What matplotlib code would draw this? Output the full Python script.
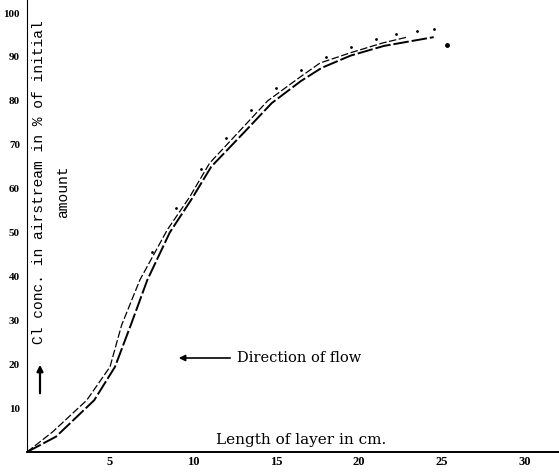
import numpy as np
import matplotlib
matplotlib.use("Agg")
import matplotlib.pyplot as plt

# Cl-Konzentration im Luftstrom entlang der Schicht
x_upper = [0, 0.31, 0.72, 1.0, 1.14, 1.36, 1.69, 1.96, 2.2, 2.57, 2.9, 3.29, 3.53, 3.89, 4.29, 4.58]
y_upper = [0, 4.6, 11.8, 19.4, 28.9, 39.2, 50.6, 58.1, 65.8, 73.3, 80.0, 85.4, 88.6, 90.9, 93.2, 94.5]

x_lower = [0, 0.35, 0.81, 1.06, 1.25, 1.45, 1.72, 1.98, 2.22, 2.6, 2.95, 3.3, 3.55, 3.9, 4.3, 4.6, 4.9]
y_lower = [0, 3.5, 11.8, 19.4, 28.9, 39.2, 50.0, 57.5, 65.0, 72.5, 79.5, 84.5, 87.5, 90.3, 92.5, 93.5, 94.5]

# verstreute Punkte über der Kurve
x_dots = [1.5, 1.8, 2.1, 2.4, 2.7, 3.0, 3.3, 3.6, 3.9, 4.2, 4.45, 4.7, 4.9]
y_dots = [45.5, 55.5, 64.5, 71.5, 78.0, 83.0, 87.0, 90.0, 92.2, 94.0, 95.2, 96.0, 96.4]

x_end = [5.06]
y_end = [92.7]

x_ticks = [1, 2, 3, 4, 5, 6]
x_ticklabels = ["5", "10", "15", "20", "25", "30"]
y_ticks = [10, 20, 30, 40, 50, 60, 70, 80, 90, 100]
y_ticklabels = ["10", "20", "30", "40", "50", "60", "70", "80", "90", "100"]

fig = plt.figure(figsize=(5.59, 4.72), dpi=100)
ax = fig.add_axes([27/559, 20/472, 532/559, 452/472])
ax.set_xlim(0, 532/83)
ax.set_ylim(0, 452/4.39)

ax.plot(x_upper, y_upper, color="black", lw=0.9, ls=(0, (6, 2)))
ax.plot(x_lower, y_lower, color="black", lw=1.4, ls=(0, (8, 1.5)))
ax.plot(x_dots, y_dots, color="black", lw=0, marker=".", ms=2)
ax.plot(x_end, y_end, color="black", lw=0, marker="o", ms=2.5)

for s in ["top", "right"]:
    ax.spines[s].set_visible(False)
ax.spines["left"].set_linestyle((0, (4, 1, 1, 1)))
ax.spines["left"].set_linewidth(0.8)
ax.spines["bottom"].set_linewidth(1.4)

ax.set_xticks(x_ticks)
ax.set_xticklabels(x_ticklabels, fontfamily="Liberation Serif",
                   fontweight="bold", fontsize=9)
ax.set_yticks(y_ticks)
ax.set_yticklabels(y_ticklabels, fontfamily="Liberation Serif",
                   fontweight="bold", fontsize=8)
ax.tick_params(axis="x", length=0, pad=3)
ax.tick_params(axis="y", length=0, pad=5)

def px(x, y):
    # Pixel -> Datenkoordinaten
    return (x - 27) / 83, (452 - y) / 4.39

ax.text(*px(39, 182), "Cl conc. in airstream in % of initial",
        rotation=90, ha="center", va="center", fontsize=10.5,
        fontfamily="Liberation Mono")
ax.text(*px(63, 192), "amount",
        rotation=90, ha="center", va="center", fontsize=10.5,
        fontfamily="Liberation Mono")

ax.annotate("", xy=px(40, 362), xytext=px(40, 396),
            arrowprops=dict(arrowstyle="-|>", color="black", lw=1.6,
                            mutation_scale=9))
ax.annotate("", xy=px(176, 358), xytext=px(233, 358),
            arrowprops=dict(arrowstyle="-|>", color="black", lw=1.2,
                            mutation_scale=9))
ax.text(*px(237, 358), "Direction of flow", ha="left", va="center",
        fontsize=10.5, fontfamily="DejaVu Serif")
ax.text(*px(301, 440), "Length of layer in cm.", ha="center", va="center",
        fontsize=11, fontfamily="DejaVu Serif")

fig.savefig("out.png", dpi=100)
